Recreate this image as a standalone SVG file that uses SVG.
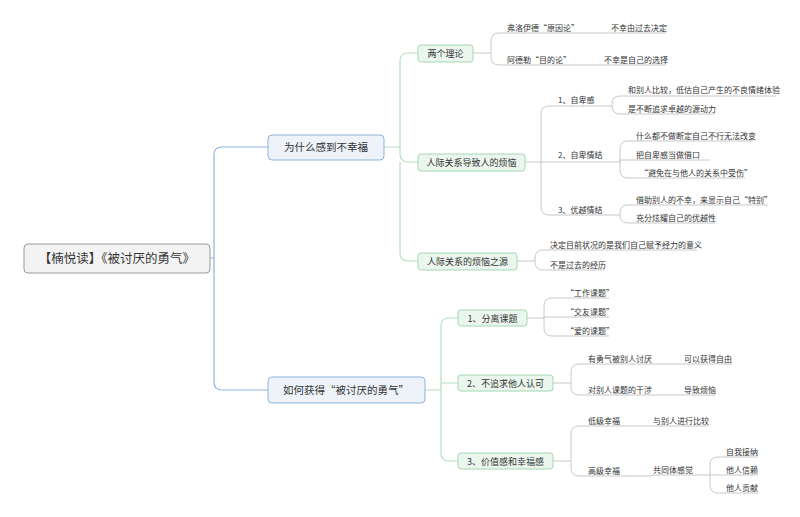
<svg xmlns="http://www.w3.org/2000/svg" width="800" height="517" viewBox="0 0 800 517">
<style>
text{font-family:"Noto Sans CJK SC","Liberation Sans",sans-serif;fill:#333}
.b{fill:none;stroke:#8fb3dc;stroke-width:1.2}
.g{fill:none;stroke:#b5dfc0;stroke-width:1.2}
.u{fill:none;stroke:#c8c8c8;stroke-width:1}
.l{font-size:8px}
.n2{font-size:9px}
.n2r{fill:#eaf6ee;stroke:#a6d8b4;stroke-width:1}
.n1r{fill:#eef3fa;stroke:#8fb3dc;stroke-width:1}
</style>
<rect width="800" height="517" fill="#fff"/>
<g id="connectors">
<path class="b" d="M210,258 H214 V155 Q214,147 222,147 H268 M214,258 V382 Q214,390 222,390 H268"/>
<path class="g" d="M384,147 H400 V61 Q400,53 408,53 H418 M400,147 V154 Q400,162 408,162 H418 M400,162 V253 Q400,261 408,261 H418"/>
<path class="g" d="M425,390 H441 V326 Q441,318 449,318 H458 M441,390 V383 H458 M441,390 V453 Q441,461 449,461 H458"/>
<path class="u" d="M473,53 H491 V41 Q491,33 499,33 H600 M491,53 V57 Q491,65 499,65 H600 M600,33 H666 M600,65 H666"/>
<path class="u" d="M525,162 H541 V114 Q541,106 549,106 H612 M541,162 H620 M541,162 V207 Q541,215 549,215 H620"/>
<path class="u" d="M612,106 V104 Q612,96 620,96 H776 M612,106 V106 Q612,114 620,114 H715"/>
<path class="u" d="M620,162 V149 Q620,141 628,141 H753 M620,162 V160 H710 M620,162 V170 Q620,178 628,178 H745"/>
<path class="u" d="M620,215 V213 Q620,205 628,205 H768 M620,215 V215 Q620,223 628,223 H715"/>
<path class="u" d="M517,261 H535 V258 Q535,250 543,250 H697 M535,261 V262 Q535,270 543,270 H605"/>
<path class="u" d="M527,318 H544 V306 Q544,298 552,298 H609 M544,318 V317 H609 M544,318 V328 Q544,336 552,336 H609"/>
<path class="u" d="M553,383 H571 V372 Q571,364 579,364 H732 M571,383 V387 Q571,395 579,395 H715"/>
<path class="u" d="M553,461 H571 V434 Q571,426 579,426 H708 M571,461 V468 Q571,476 579,476 H650 Q653,475 660,475 H710"/>
<path class="u" d="M710,475 V465 Q710,457 718,457 H758 M710,475 H758 M710,475 V485 Q710,493 718,493 H758"/>
</g>
<g id="root"><rect x="24" y="244" width="186" height="29" rx="4" fill="#f3f3f3" stroke="#999" stroke-width="1"/><text x="117" y="263" font-size="12.5" text-anchor="middle">【楠悦读】《被讨厌的勇气》</text></g>
<g id="n1a"><rect class="n1r" x="268" y="135" width="116" height="25" rx="4"/><text x="326" y="151" font-size="10.5" text-anchor="middle">为什么感到不幸福</text></g>
<g id="n1b"><rect class="n1r" x="268" y="377" width="157" height="26" rx="4"/><text x="283" y="394" font-size="10.5">如何获得“被讨厌的勇气”</text></g>
<g id="n2a"><rect class="n2r" x="418" y="45" width="55" height="17" rx="3"/><text x="445.5" y="57" class="n2" text-anchor="middle">两个理论</text></g>
<g id="n2b"><rect class="n2r" x="418" y="154" width="107" height="17" rx="3"/><text x="471.5" y="166" class="n2" text-anchor="middle">人际关系导致人的烦恼</text></g>
<g id="n2c"><rect class="n2r" x="418" y="253" width="99" height="17" rx="3"/><text x="467.5" y="265" class="n2" text-anchor="middle">人际关系的烦恼之源</text></g>
<g id="n2d"><rect class="n2r" x="458" y="310" width="69" height="16" rx="3"/><text x="492.5" y="321.5" class="n2" text-anchor="middle">1、分离课题</text></g>
<g id="n2e"><rect class="n2r" x="458" y="375" width="95" height="16" rx="3"/><text x="505.5" y="386.5" class="n2" text-anchor="middle">2、不追求他人认可</text></g>
<g id="n2f"><rect class="n2r" x="458" y="453" width="95" height="16" rx="3"/><text x="505.5" y="464.5" class="n2" text-anchor="middle">3、价值感和幸福感</text></g>
<g id="leaves" class="l">
<text x="507" y="31" class="l">弗洛伊德“原因论”</text><text x="611" y="31" class="l">不幸由过去决定</text>
<text x="507" y="63" class="l">阿德勒“目的论”</text><text x="604" y="63" class="l">不幸是自己的选择</text>
<text x="558" y="103" class="l">1、自卑感</text>
<text x="558" y="158" class="l">2、自卑情结</text>
<text x="558" y="213" class="l">3、优越情结</text>
<text x="628" y="93" class="l">和别人比较，低估自己产生的不良情绪体验</text>
<text x="628" y="112" class="l">是不断追求卓越的源动力</text>
<text x="636" y="139" class="l">什么都不做断定自己不行无法改变</text>
<text x="636" y="158" class="l">把自卑感当做借口</text>
<text x="640" y="176" class="l">“避免在与他人的关系中受伤”</text>
<text x="636" y="203" class="l">借助别人的不幸，来显示自己“特别”</text>
<text x="636" y="221" class="l">充分炫耀自己的优越性</text>
<text x="550" y="248" class="l">决定目前状况的是我们自己赋予经力的意义</text>
<text x="550" y="268" class="l">不是过去的经历</text>
<text x="566" y="296" class="l">“工作课题”</text>
<text x="566" y="315" class="l">“交友课题”</text>
<text x="566" y="334" class="l">“爱的课题”</text>
<text x="588" y="362" class="l">有勇气被别人讨厌</text><text x="684" y="362" class="l">可以获得自由</text>
<text x="588" y="393" class="l">对别人课题的干涉</text><text x="684" y="393" class="l">导致烦恼</text>
<text x="588" y="424" class="l">低级幸福</text><text x="653" y="424" class="l">与别人进行比较</text>
<text x="588" y="474" class="l">高级幸福</text><text x="653" y="473" class="l">共同体感觉</text>
<text x="726" y="455" class="l">自我接纳</text>
<text x="726" y="473" class="l">他人信赖</text>
<text x="726" y="491" class="l">他人贡献</text>
</g>
</svg>
